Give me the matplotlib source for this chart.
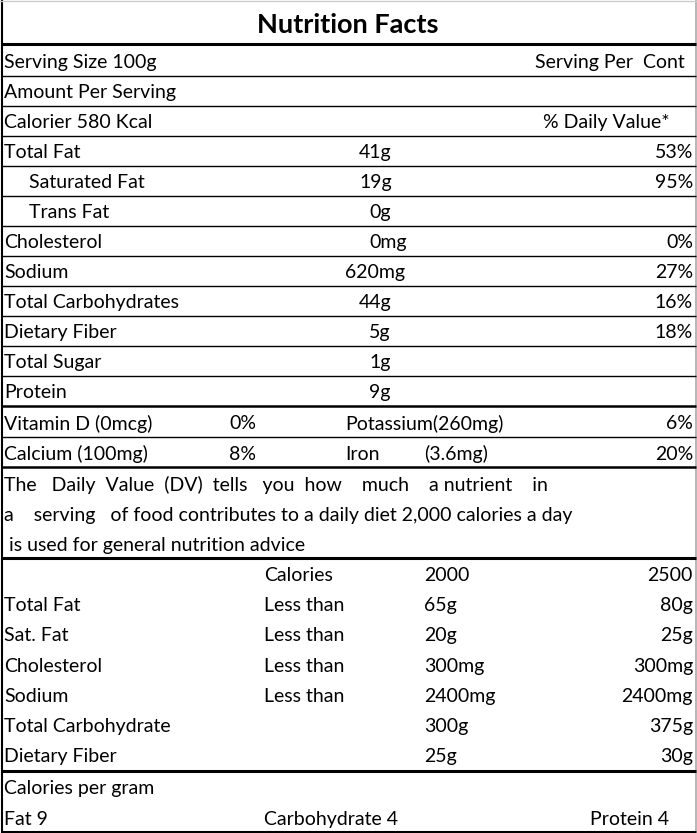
import matplotlib.pyplot as plt

# top nutrient table: label, indent, amount, amount x, daily value
NUTRIENTS = ["Total Fat", "Saturated Fat", "Trans Fat", "Cholesterol", "Sodium",
             "Total Carbohydrates", "Dietary Fiber", "Total Sugar", "Protein"]
INDENT = [False, True, True, False, False, False, False, False, False]
AMOUNTS = ["41g", "19g", "0g", "0mg", "620mg", "44g", "5g", "1g", "9g"]
AMOUNT_X = [359, 359, 369, 369, 345, 359, 369, 369, 369]
DAILY = ["53%", "95%", "", "0%", "27%", "16%", "18%", "", ""]

VITAMINS = [("Vitamin D (0mcg)", "0%", "Potassium(260mg)", "", "6%"),
            ("Calcium (100mg)", "8%", "Iron", "(3.6mg)", "20%")]

NOTE = ["The   Daily  Value  (DV)  tells   you  how    much    a nutrient    in",
        "a    serving   of food contributes to a daily diet 2,000 calories a day",
        " is used for general nutrition advice"]

REF_LABELS = ["", "Total Fat", "Sat. Fat", "Cholesterol", "Sodium", "Total Carbohydrate", "Dietary Fiber"]
REF_QUAL = ["Calories", "Less than", "Less than", "Less than", "Less than", "", ""]
REF_2000 = ["2000", "65g", "20g", "300mg", "2400mg", "300g", "25g"]
REF_2500 = ["2500", "80g", "25g", "300mg", "2400mg", "375g", "30g"]

W, H = 697, 833
FONT = "Lato"
FS = 14

fig = plt.figure(figsize=(W / 100, H / 100), dpi=100)
ax = fig.add_axes([0, 0, 1, 1])
ax.set_xlim(0, W)
ax.set_ylim(H, 0)
ax.axis("off")


def txt(x, y, s, ha="left", **kw):
    return ax.text(x, y + 1.5, s, ha=ha, va="center", fontsize=FS, family=FONT, **kw)


def hline(y, lw=1.0):
    ax.plot([1, 696], [y, y], color="black", lw=lw, solid_capstyle="butt")


# borders
ax.plot([1.5, 1.5], [0, 832], color="black", lw=1.5)
ax.plot([695.5, 695.5], [0, 832], color="#aaaaaa", lw=1.2)
ax.plot([0, 697], [1, 1], color="#cccccc", lw=1.0)

ax.text(348, 25, "Nutrition Facts", ha="center", va="center", fontsize=19.5,
        family=FONT, fontweight="bold")
hline(44, 2.2)

txt(4, 61, "Serving Size 100g")
txt(535, 61, "Serving Per  Cont")
txt(4, 91, "Amount Per Serving")
txt(4, 121, "Calorier 580 Kcal")
txt(670, 121, "% Daily Value*", ha="right")

for i, name in enumerate(NUTRIENTS):
    y = 151 + 30 * i
    txt(29 if INDENT[i] else 4, y, name)
    txt(AMOUNT_X[i], y, AMOUNTS[i])
    if DAILY[i]:
        txt(693, y, DAILY[i], ha="right")

for y in range(76, 400, 30):
    hline(y, 1.0)
hline(406, 1.8)

for j, (a, b, c, d, e) in enumerate(VITAMINS):
    y = 422 + 30.5 * j
    txt(4, y, a)
    txt(229, y, b)
    txt(345, y, c)
    if d:
        txt(424, y, d)
    txt(693, y, e, ha="right")
hline(437, 1.0)
hline(467, 1.8)

for k, line in enumerate(NOTE):
    txt(4, 483 + 30.5 * k, line)
hline(558, 2.2)

for k in range(len(REF_LABELS)):
    y = 574 + 30.2 * k
    txt(4, y, REF_LABELS[k])
    txt(264, y, REF_QUAL[k])
    txt(424, y, REF_2000[k])
    txt(693, y, REF_2500[k], ha="right")
hline(771, 2.2)

txt(4, 787, "Calories per gram")
txt(4, 818, "Fat 9")
txt(264, 818, "Carbohydrate 4")
txt(590, 818, "Protein 4")
hline(832, 2.2)

fig.savefig("out.png", dpi=100)
